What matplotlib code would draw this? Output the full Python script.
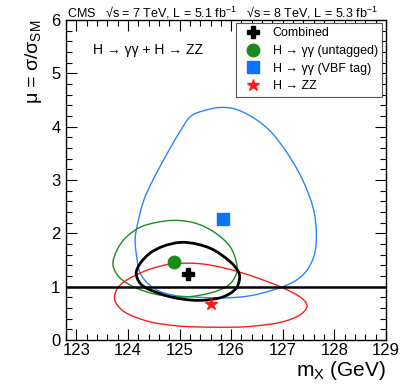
import matplotlib
matplotlib.use("Agg")
import matplotlib.pyplot as plt
import numpy as np
from matplotlib.lines import Line2D
from matplotlib.patches import PathPatch
from matplotlib.path import Path
from matplotlib.ticker import MultipleLocator

plt.rcParams["font.family"] = ["Liberation Sans", "DejaVu Sans"]
plt.rcParams["mathtext.fontset"] = "custom"
plt.rcParams["mathtext.rm"] = "Liberation Sans"
plt.rcParams["mathtext.it"] = "Liberation Sans"

# best-fit points (mass in GeV, signal strength)
comb_best = (125.16, 1.23)
gg_best = (124.90, 1.46)
vbf_best = (125.84, 2.26)
zz_best = (125.61, 0.68)

# 68% CL contours (closed, first point not repeated)
comb_m = [124.16, 124.24, 124.43, 124.69, 125.01, 125.33, 125.66, 125.98, 126.14, 126.16,
          126.08, 125.85, 125.53, 125.21, 124.82, 124.43, 124.24]
comb_mu = [1.25, 1.44, 1.63, 1.76, 1.83, 1.80, 1.69, 1.47, 1.28, 1.13,
           0.95, 0.81, 0.75, 0.75, 0.81, 0.94, 1.06]

gg_m = [123.71, 123.79, 123.98, 124.30, 124.82, 125.27, 125.66, 125.98, 126.11, 126.08,
        125.91, 125.59, 125.14, 124.63, 124.17, 123.85]
gg_mu = [1.41, 1.69, 1.94, 2.14, 2.24, 2.20, 2.03, 1.75, 1.41, 1.19,
         1.00, 0.88, 0.81, 0.84, 0.97, 1.16]

vbf_m = [124.17, 124.30, 124.50, 124.82, 125.01, 125.21, 125.47, 125.79, 126.11, 126.49,
         126.82, 127.15, 127.40, 127.59, 127.65, 127.62, 127.47, 127.21, 126.82, 126.37,
         125.91, 125.40, 124.88, 124.50, 124.24, 124.16, 124.14]
vbf_mu = [2.10, 2.60, 3.03, 3.60, 3.91, 4.19, 4.30, 4.36, 4.32, 4.13,
          3.85, 3.41, 2.97, 2.47, 2.03, 1.63, 1.31, 1.09, 0.94, 0.83,
          0.79, 0.80, 0.84, 0.97, 1.25, 1.63, 1.88]

zz_m = [123.74, 123.82, 124.04, 124.43, 124.88, 125.40, 125.91, 126.43, 126.95, 127.33,
        127.47, 127.33, 126.95, 126.31, 125.66, 125.01, 124.43, 123.98, 123.79]
zz_mu = [0.81, 1.00, 1.16, 1.33, 1.43, 1.43, 1.34, 1.19, 1.00, 0.81,
         0.64, 0.47, 0.33, 0.25, 0.24, 0.26, 0.34, 0.50, 0.66]

blue = "#2a85ff"
green = "#1a8c1a"
red = "#ff1a1a"


def closed_curve(xs, ys):
    # smooth closed bezier path through the read points (Catmull-Rom tangents)
    p = np.column_stack([xs, ys])
    n = len(p)
    verts = [p[0]]
    codes = [Path.MOVETO]
    for i in range(n):
        p0, p1, p2, p3 = p[i - 1], p[i], p[(i + 1) % n], p[(i + 2) % n]
        verts += [p1 + (p2 - p0) / 6, p2 - (p3 - p1) / 6, p2]
        codes += [Path.CURVE4] * 3
    return Path(verts, codes)


fig = plt.figure(figsize=(4.07, 3.91), dpi=100)
ax = fig.add_axes([66 / 407, 1 - 340 / 391, 320 / 407, 320 / 391])

for xs, ys, c, lw in [(vbf_m, vbf_mu, blue, 1.0), (gg_m, gg_mu, green, 1.0),
                      (zz_m, zz_mu, red, 1.0), (comb_m, comb_mu, "black", 2.0)]:
    ax.add_patch(PathPatch(closed_curve(xs, ys), fill=False, edgecolor=c, lw=lw))
ax.axhline(1.0, color="black", lw=1.8)

ax.plot(*comb_best, marker="P", color="black", ms=9, ls="none")
ax.plot(*gg_best, marker="o", color=green, ms=9, ls="none")
ax.plot(*vbf_best, marker="s", color="#0a74ff", ms=8, ls="none")
ax.plot(*zz_best, marker="*", color=red, ms=9, ls="none")

ax.set_xlim(122.8, 129)
ax.set_ylim(0, 6)
ax.set_xticks(range(123, 130))
ax.xaxis.set_minor_locator(MultipleLocator(0.2))
ax.yaxis.set_major_locator(MultipleLocator(1))
ax.yaxis.set_minor_locator(MultipleLocator(0.2))
ax.tick_params(which="both", direction="in", top=True, right=True, labelsize=12, width=0.8)
ax.tick_params(which="major", length=8)
ax.tick_params(which="minor", length=4)
ax.tick_params(axis="x", pad=2)
ax.tick_params(axis="y", pad=4)
for s in ax.spines.values():
    s.set_linewidth(1.0)

ax.set_xlabel(r"m$_{\mathregular{X}}$ (GeV)", fontsize=15, loc="right", labelpad=1)
ax.set_ylabel(r"$\mu$ = $\sigma/\sigma_{\mathregular{SM}}$", fontsize=14, loc="top", labelpad=5)

fig.text(67 / 407, 1 - 13 / 391,
         "CMS   \u221as = 7 TeV, L = 5.1 fb$^{\\mathregular{-1}}$   \u221as = 8 TeV, L = 5.3 fb$^{\\mathregular{-1}}$",
         fontsize=9, va="center", ha="left")
ax.text(0.085, 0.905, "H \u2192 \u03b3\u03b3 + H \u2192 ZZ", transform=ax.transAxes, fontsize=10, va="center")

handles = [
    Line2D([], [], marker="P", color="black", ms=9, ls="none"),
    Line2D([], [], marker="o", color=green, ms=9, ls="none"),
    Line2D([], [], marker="s", color="#0a74ff", ms=8, ls="none"),
    Line2D([], [], marker="*", color=red, ms=9, ls="none"),
]
labels = ["Combined", "H \u2192 \u03b3\u03b3 (untagged)", "H \u2192 \u03b3\u03b3 (VBF tag)", "H \u2192 ZZ"]
leg = ax.legend(handles, labels, loc="upper right", bbox_to_anchor=(0.988, 0.991), fontsize=9,
                fancybox=False, framealpha=1, edgecolor="#555555", borderpad=0.35,
                labelspacing=0.45, handletextpad=0.6, borderaxespad=0)
leg.get_frame().set_linewidth(0.8)

fig.savefig("out.png", dpi=100)
